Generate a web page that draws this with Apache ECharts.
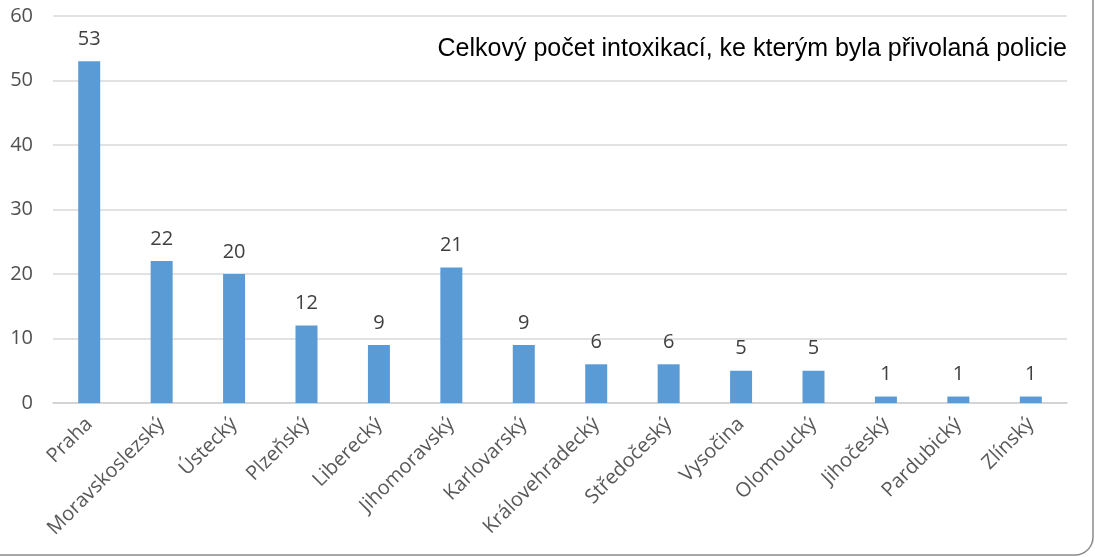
<!doctype html>
<html>
<head>
  <meta charset="UTF-8" />
  <title>Intoxikace</title>
  <script src="https://cdn.jsdelivr.net/npm/echarts@6/dist/echarts.min.js"></script>
  <style>
    html, body { margin: 0; padding: 0; background: #fff; }
    #chart { width: 1095px; height: 557px; }
  </style>
</head>
<body>
  <div id="chart"></div>
  <script>
    const regions = ['Praha', 'Moravskoslezský', 'Ústecký', 'Plzeňský', 'Liberecký', 'Jihomoravský',
      'Karlovarský', 'Královehradecký', 'Středočeský', 'Vysočina', 'Olomoucký', 'Jihočeský',
      'Pardubický', 'Zlínský'];
    const counts = [53, 22, 20, 12, 9, 21, 9, 6, 6, 5, 5, 1, 1, 1];
    const titleText = 'Celkový počet intoxikací, ke kterým byla přivolaná policie';

    const chart = echarts.init(document.getElementById('chart'));
    chart.setOption({
      animation: false,
      title: {
        text: titleText,
        right: 23,
        top: 32,
        textStyle: { fontFamily: 'Liberation Sans', fontSize: 25, fontWeight: 'normal', color: '#000' }
      },
      grid: { left: 53, right: 28, top: 16, bottom: 154 },
      xAxis: {
        type: 'category',
        data: regions,
        axisLine: { lineStyle: { color: '#d0d0d0', width: 1.5 } },
        axisTick: { show: false },
        axisLabel: {
          rotate: 45,
          interval: 0,
          margin: 18,
          fontFamily: 'Open Sans',
          fontSize: 20,
          color: '#595959'
        }
      },
      yAxis: {
        type: 'value',
        min: 0,
        max: 60,
        interval: 10,
        axisLabel: { fontFamily: 'Open Sans', fontSize: 20, color: '#505050', margin: 20 },
        splitLine: { lineStyle: { color: '#d9d9d9', width: 1.5 } }
      },
      series: [{
        type: 'bar',
        data: counts,
        barWidth: 22,
        itemStyle: { color: '#5b9bd5' },
        label: {
          show: true,
          position: 'top',
          distance: 12,
          fontFamily: 'Open Sans',
          fontSize: 20,
          color: '#404040'
        }
      }],
      graphic: [{
        type: 'rect',
        shape: { x: -20, y: -20, width: 1113, height: 575, r: 18 },
        style: { fill: 'none', stroke: '#8a8a8a', lineWidth: 1.5 },
        silent: true
      }]
    });
  </script>
</body>
</html>
